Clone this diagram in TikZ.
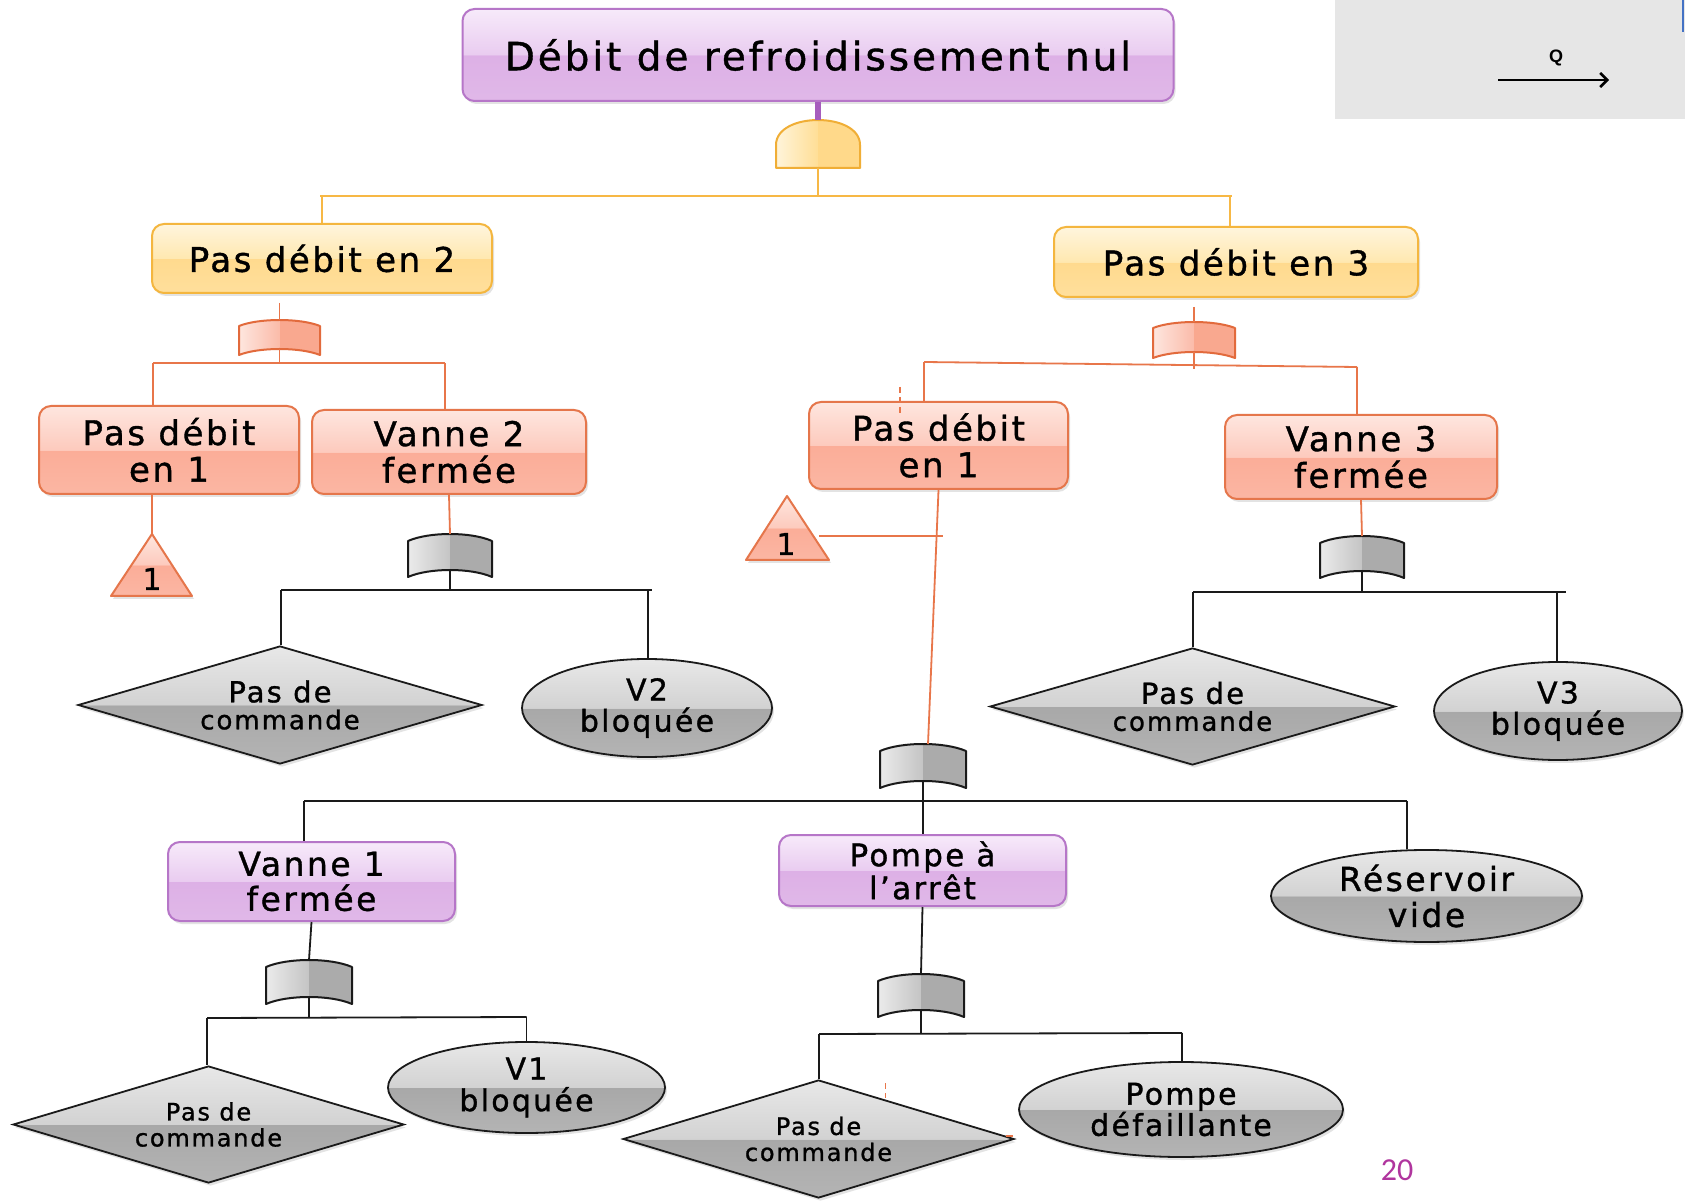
\documentclass[tikz,border=0pt]{standalone}
\usepackage{fontspec}
\setmainfont{DejaVu Sans}[LetterSpace=7.5, FakeBold=1.1]
\newfontfamily\numfont{Carlito}
\newfontfamily\qfont{Liberation Sans}
\usetikzlibrary{shapes.geometric,shadows,arrows.meta}
% glossy colours
\definecolor{pT}{HTML}{F7EAFA}\definecolor{pM}{HTML}{E9CCF0}\definecolor{pD}{HTML}{DDB0E6}\definecolor{pB}{HTML}{E0B8E8}\definecolor{pBd}{HTML}{B676C8}
\definecolor{yT}{HTML}{FFF5DD}\definecolor{yM}{HTML}{FFE8B0}\definecolor{yD}{HTML}{FFDA8E}\definecolor{yB}{HTML}{FFDF9C}\definecolor{yBd}{HTML}{F4B63F}
\definecolor{sT}{HTML}{FEE6DF}\definecolor{sM}{HTML}{FDCABD}\definecolor{sD}{HTML}{FBAD98}\definecolor{sB}{HTML}{FBB6A3}\definecolor{sBd}{HTML}{E5764B}
\definecolor{gT}{HTML}{E8E8E8}\definecolor{gM}{HTML}{D2D2D2}\definecolor{gD}{HTML}{A8A8A8}\definecolor{gB}{HTML}{B4B4B4}
% gate colours
\definecolor{gyL}{HTML}{ECECEC}\definecolor{gyM}{HTML}{C4C4C4}\definecolor{gyR}{HTML}{ABABAB}\definecolor{gyBd}{HTML}{1A1A1A}
\definecolor{saL}{HTML}{FEE7E0}\definecolor{saM}{HTML}{FBBBA9}\definecolor{saR}{HTML}{F9A88F}\definecolor{saBd}{HTML}{E26A3C}
\definecolor{yeL}{HTML}{FFF5DC}\definecolor{yeM}{HTML}{FFDE96}\definecolor{yeR}{HTML}{FFD98A}\definecolor{yeBd}{HTML}{F0AE36}
% lines
\definecolor{lineY}{HTML}{F7B845}\definecolor{lineO}{HTML}{E8764A}\definecolor{lineK}{HTML}{1A1A1A}\definecolor{lineP}{HTML}{A65DBD}
\definecolor{panel}{HTML}{E6E6E6}\definecolor{numc}{HTML}{B0359E}\definecolor{edgeblue}{HTML}{4472C4}
\pgfdeclareverticalshading{glossP}{100bp}{color(0bp)=(pB); color(25bp)=(pB); color(49.99bp)=(pD); color(50bp)=(pM); color(75bp)=(pT); color(100bp)=(pT)}
\pgfdeclareverticalshading{glossY}{100bp}{color(0bp)=(yB); color(25bp)=(yB); color(49.99bp)=(yD); color(50bp)=(yM); color(75bp)=(yT); color(100bp)=(yT)}
\pgfdeclareverticalshading{glossS}{100bp}{color(0bp)=(sB); color(25bp)=(sB); color(49.99bp)=(sD); color(50bp)=(sM); color(75bp)=(sT); color(100bp)=(sT)}
\pgfdeclareverticalshading{glossG}{100bp}{color(0bp)=(gB); color(25bp)=(gB); color(49.99bp)=(gD); color(50bp)=(gM); color(75bp)=(gT); color(100bp)=(gT)}
\tikzset{
  softshadow/.style={drop shadow={shadow xshift=1pt, shadow yshift=-1.5pt, opacity=0.22}},
  box/.style={rectangle, rounded corners=6pt, line width=1pt, inner sep=1pt, align=center, softshadow},
  purplebox/.style={box, draw=pBd, shade, shading=glossP},
  yellowbox/.style={box, draw=yBd, shade, shading=glossY},
  salmonbox/.style={box, draw=sBd, shade, shading=glossS},
  graydiamond/.style={diamond, aspect=3.4, draw=lineK, line width=0.9pt, shade, shading=glossG, inner sep=0pt, align=center, softshadow},
  grayellipse/.style={ellipse, draw=lineK, line width=0.9pt, shade, shading=glossG, inner sep=0pt, align=center, softshadow},
  trishape/.style={draw=sBd, line width=1pt, line join=round, shade, shading=glossS, softshadow},
  ylink/.style={draw=lineY, line width=1pt},
  olink/.style={draw=lineO, line width=0.9pt},
  klink/.style={draw=lineK, line width=0.9pt},
  pics/orgate/.style n args={4}{code={
    \begin{scope}
      \clip (-#2,#4) .. controls (-#2/2,-#4/3) and (#2/2,-#4/3) .. (#2,#4) -- (#2,#3) .. controls (#2/2,#3-4*#4/3) and (-#2/2,#3-4*#4/3) .. (-#2,#3) -- cycle;
      \shade[left color=#1L, right color=#1M] (-#2-1,-#4-1) rectangle (0,#3+1);
      \fill[#1R] (0,-#4-1) rectangle (#2+1,#3+1);
    \end{scope}
    \draw[#1Bd, line width=1pt, line join=round] (-#2,#4) .. controls (-#2/2,-#4/3) and (#2/2,-#4/3) .. (#2,#4) -- (#2,#3) .. controls (#2/2,#3-4*#4/3) and (-#2/2,#3-4*#4/3) .. (-#2,#3) -- cycle;
    \coordinate (-top) at (0,0);
    \coordinate (-bot) at (0,#3-#4);
  }},
  pics/andgate/.style={code={
    \begin{scope}
      \clip (-42,25) .. controls (-42,-8.3) and (42,-8.3) .. (42,25) -- (42,48) -- (-42,48) -- cycle;
      \shade[left color=yeL, right color=yeM] (-43,-10) rectangle (0,49);
      \fill[yeR] (0,-10) rectangle (43,49);
    \end{scope}
    \draw[yeBd, line width=1pt, line join=round] (-42,25) .. controls (-42,-8.3) and (42,-8.3) .. (42,25) -- (42,48) -- (-42,48) -- cycle;
    \coordinate (-top) at (0,0);
    \coordinate (-bot) at (0,48);
  }},
}
\begin{document}
\begin{tikzpicture}[x=0.5pt,y=-0.5pt]
\useasboundingbox (0,0) rectangle (1685,1202);
\fill[white] (0,0) rectangle (1685,1202);
% top-right panel
\fill[panel] (1335,0) rectangle (1685,119);
\draw[edgeblue, line width=1pt] (1683,0) -- (1683,32);
\coordinate (qa) at (1498,80);
\coordinate (qb) at (1609,80);
\draw[line width=1.1pt, -{Straight Barb[length=3.5pt,width=7pt,line width=1.3pt]}] (qa) -- (qb);
\node[font=\qfont\bfseries\fontsize{9}{10}\selectfont] (qlab) at (1556,58) {Q};

% ---------- nodes ----------
\node[purplebox, minimum width=355.5pt, minimum height=46pt, font=\fontsize{19.5}{22}\selectfont] (top) at (818,55) {Débit de refroidissement nul};

\node[yellowbox, minimum width=170pt, minimum height=34.5pt, font=\fontsize{17}{19}\selectfont] (pd2) at (322,258.5) {Pas débit en 2};
\node[yellowbox, minimum width=182pt, minimum height=35pt, font=\fontsize{17}{19}\selectfont] (pd3) at (1236,262) {Pas débit en 3};

\node[salmonbox, minimum width=130pt, minimum height=44pt, font=\fontsize{17}{18.3}\selectfont] (pd1a) at (169,450) {Pas débit\\en 1};
\node[salmonbox, minimum width=137pt, minimum height=42pt, font=\fontsize{17}{18.3}\selectfont] (v2f) at (449,452) {Vanne 2\\fermée};
\node[salmonbox, minimum width=129.5pt, minimum height=43.5pt, font=\fontsize{17}{18.3}\selectfont] (pd1b) at (938.5,445.5) {Pas débit\\en 1};
\node[salmonbox, minimum width=136pt, minimum height=42pt, font=\fontsize{17}{18.3}\selectfont] (v3f) at (1361,457) {Vanne 3\\fermée};

\node[purplebox, minimum width=143.5pt, minimum height=39.5pt, font=\fontsize{16.5}{17.5}\selectfont] (v1f) at (311.5,881.5) {Vanne 1\\fermée};
\node[purplebox, minimum width=143.5pt, minimum height=35.5pt, font=\fontsize{15.5}{16.5}\selectfont] (pompe) at (922.5,870.5) {Pompe à\\l’arrêt};

\node[graydiamond, minimum width=202pt, minimum height=59pt, font=\fontsize{13}{13.5}\selectfont] (dA) at (280,705) {{\fontsize{14.5}{13.5}\selectfont Pas de}\\commande};
\node[graydiamond, minimum width=202.5pt, minimum height=58.5pt, font=\fontsize{13}{13.5}\selectfont] (dB) at (1192.5,706.5) {{\fontsize{14.5}{13.5}\selectfont Pas de}\\commande};
\node[graydiamond, minimum width=195.5pt, minimum height=58.5pt, font=\fontsize{12}{13}\selectfont] (dC) at (208.5,1124.5) {Pas de\\commande};
\node[graydiamond, minimum width=195.5pt, minimum height=59pt, font=\fontsize{12}{13}\selectfont] (dD) at (818.5,1139) {Pas de\\commande};

\node[grayellipse, minimum width=125pt, minimum height=49pt, font=\fontsize{15}{15.6}\selectfont] (eV2) at (647,708) {V2\\bloquée};
\node[grayellipse, minimum width=124pt, minimum height=49pt, font=\fontsize{15}{15.6}\selectfont] (eV3) at (1558,711) {V3\\bloquée};
\node[grayellipse, minimum width=155.5pt, minimum height=46pt, font=\fontsize{16.5}{18}\selectfont] (eRes) at (1426.5,896) {Réservoir\\vide};
\node[grayellipse, minimum width=138.5pt, minimum height=45.5pt, font=\fontsize{15}{15.8}\selectfont] (eV1) at (526.5,1087.5) {V1\\bloquée};
\node[grayellipse, minimum width=162pt, minimum height=47.5pt, font=\fontsize{15}{15.6}\selectfont] (ePd) at (1181,1109.5) {Pompe\\défaillante};

% transfer triangles
\coordinate (t1top) at (152,534);
\path[trishape] (t1top) -- (111,596) -- (192,596) -- cycle;
\node[font=\fontsize{15}{16}\selectfont] (t1) at (152,579) {1};
\coordinate (t2top) at (787,496);
\path[trishape] (t2top) -- (746,560) -- (829,560) -- cycle;
\node[font=\fontsize{15}{16}\selectfont] (t2) at (786,544) {1};

% gates
\pic (gA) at (818,120) {andgate};
\pic (gL) at (279.5,320) {orgate={sa}{40.5}{35}{6}};
\pic (gR) at (1194,322) {orgate={sa}{41}{36}{6}};
\pic (gV2) at (450,534) {orgate={gy}{42}{43}{7}};
\pic (gV3) at (1362,536) {orgate={gy}{42}{42}{7}};
\pic (gM) at (923,744) {orgate={gy}{43}{44}{7}};
\pic (gV1) at (309,960) {orgate={gy}{43}{44}{7}};
\pic (gP) at (921,974) {orgate={gy}{43}{43}{7}};

% ---------- connectors ----------
% top level
\draw[draw=lineP, line width=3pt] (top.south) -- (gA-top);
\coordinate (yb1) at (322,196.5);
\coordinate (yb2) at (1230,196.5);
\draw[ylink] (gA-bot) -- (gA-bot |- yb1);
\draw[ylink] ([xshift=-1pt]yb1) -- ([xshift=1pt]yb2);
\draw[ylink] (yb1) -- (yb1 |- pd2.north);
\draw[ylink] (yb2) -- (yb2 |- pd3.north);

% under "Pas debit en 2"
\draw[olink, shorten <=4.5pt] (gL-top |- pd2.south) -- (gL-top);
\coordinate (sl1) at (153,363);
\coordinate (sl2) at (445,363);
\draw[olink] (gL-bot) -- (gL-bot |- sl1);
\draw[olink] (sl1) -- (sl2);
\draw[olink] (sl1) -- (sl1 |- pd1a.north);
\draw[olink] (sl2) -- (sl2 |- v2f.north);
\draw[olink] (t1top |- pd1a.south) -- (t1top);
\draw[olink] (v2f.south) -- (gV2-top);
\coordinate (k2a) at (281,590);
\coordinate (k2b) at (648,590);
\coordinate (k2e) at (652,590);
\draw[klink] (gV2-bot) -- (gV2-bot |- k2a);
\draw[klink] (k2a) -- (k2e);
\draw[klink] (k2a) -- (k2a |- dA.north);
\draw[klink] (k2b) -- (k2b |- eV2.north);

% under "Pas debit en 3"
\draw[olink, shorten <=4.5pt] (gR-top |- pd3.south) -- (gR-top);
\coordinate (sr1) at (924,362);
\coordinate (sr2) at (1357,367);
\coordinate (srm) at (1194,369);
\draw[olink] (gR-bot) -- (srm);
\draw[olink] (sr1) -- (sr2);
\draw[olink] (sr1) -- (sr1 |- pd1b.north);
\draw[olink] (sr2) -- (sr2 |- v3f.north);
\draw[olink, dashed, dash pattern=on 3pt off 2pt] (900,387) -- (900,414);
\draw[olink] (pd1b.south) -- ([xshift=2.5pt]gM-top);
\coordinate (t2r) at (819,536);
\coordinate (t2e) at (943,536);
\draw[olink] (t2r) -- (t2e);
\draw[olink] (v3f.south) -- (gV3-top);
\coordinate (k3a) at (1193,592);
\coordinate (k3b) at (1557,592);
\coordinate (k3e) at (1566,592);
\draw[klink] (gV3-bot) -- (gV3-bot |- k3a);
\draw[klink] (k3a) -- (k3e);
\draw[klink] (k3a) -- (k3a |- dB.north);
\draw[klink] (k3b) -- (k3b |- eV3.north);

% under middle gate
\coordinate (m1) at (304,801);
\coordinate (m3) at (1407,801);
\draw[klink] (m1) -- (m3);
\draw[klink] (gM-bot) -- (gM-bot |- pompe.north);
\draw[klink] (m1) -- (m1 |- v1f.north);
\draw[klink] (m3) -- (m3 |- eRes.north);

% under Vanne 1
\draw[klink] (v1f.south) -- (gV1-top);
\coordinate (n1) at (207,1018);
\coordinate (n2) at (526.5,1017);
\draw[klink] (gV1-bot) -- (gV1-bot |- n1);
\draw[klink] (n1) -- (n2);
\draw[klink] (n1) -- (n1 |- dC.north);
\draw[klink] (n2) -- (n2 |- eV1.north);

% under Pompe
\draw[klink] (pompe.south) -- (gP-top);
\coordinate (p1) at (819,1034);
\coordinate (p2) at (1182,1033);
\draw[klink] (gP-bot) -- (gP-bot |- p1);
\draw[klink] (p1) -- (p2);
\draw[klink] (p1) -- (p1 |- dD.north);
\draw[klink] (p2) -- (p2 |- ePd.north);
\draw[olink, dashed, dash pattern=on 3pt off 2pt] (885.5,1083) -- (885.5,1098);
\draw[olink] (1006,1136) -- (1013,1136);

% page number
\node[text=numc, font=\numfont\fontsize{16}{18}\selectfont] (pg) at (1397,1170) {20};
\end{tikzpicture}
\end{document}
